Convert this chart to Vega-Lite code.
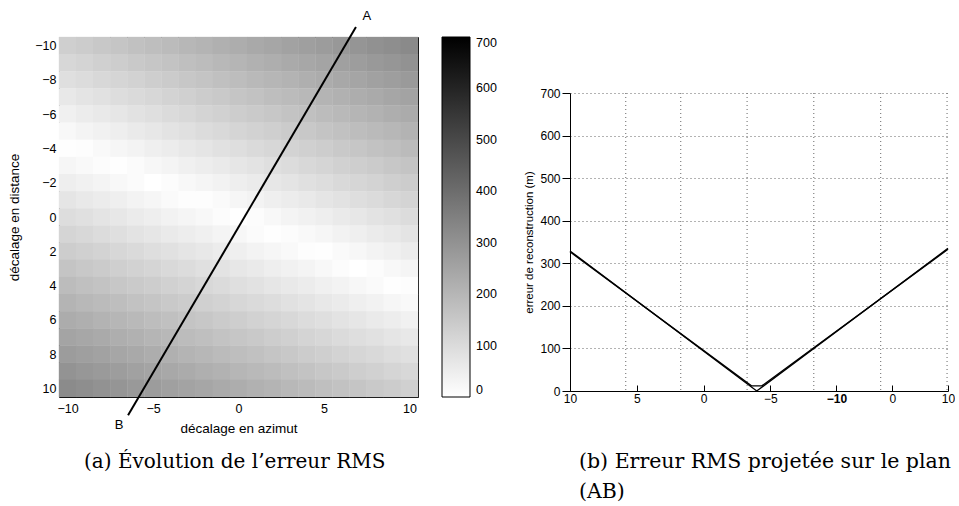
{
  "$schema": "https://vega.github.io/schema/vega-lite/v6.json",
  "background": "white",
  "padding": {"left": 7, "top": 10, "right": 0, "bottom": 0},
  "spacing": 104,
  "config": {
    "view": {"stroke": null},
    "font": "Liberation Sans",
    "axis": {"labelFont": "Liberation Sans", "titleFont": "Liberation Sans", "labelColor": "black", "titleColor": "black", "domainColor": "black", "tickColor": "black", "titleFontWeight": "normal", "labelFlush": false, "labelOverlap": false},
    "legend": {"labelFont": "Liberation Sans", "labelColor": "black"}
  },
  "hconcat": [
    {
      "width": 359,
      "height": 360,
      "title": {"text": "(a) Évolution de l’erreur RMS", "orient": "bottom", "anchor": "start", "frame": "group", "dx": 25, "offset": 17, "font": "DejaVu Serif", "fontSize": 20, "fontWeight": "normal", "color": "black"},
      "data": {"values": [
        {"az":-10,"dist":-10,"err":132},{"az":-10,"dist":-9,"err":109},{"az":-10,"dist":-8,"err":87},{"az":-10,"dist":-7,"err":64},{"az":-10,"dist":-6,"err":42},{"az":-10,"dist":-5,"err":19},{"az":-10,"dist":-4,"err":3},{"az":-10,"dist":-3,"err":26},{"az":-10,"dist":-2,"err":48},{"az":-10,"dist":-1,"err":71},{"az":-10,"dist":0,"err":93},{"az":-10,"dist":1,"err":116},{"az":-10,"dist":2,"err":138},{"az":-10,"dist":3,"err":161},{"az":-10,"dist":4,"err":183},{"az":-10,"dist":5,"err":206},{"az":-10,"dist":6,"err":228},{"az":-10,"dist":7,"err":251},{"az":-10,"dist":8,"err":273},{"az":-10,"dist":9,"err":296},{"az":-10,"dist":10,"err":318},
        {"az":-9,"dist":-10,"err":141},{"az":-9,"dist":-9,"err":119},{"az":-9,"dist":-8,"err":96},{"az":-9,"dist":-7,"err":74},{"az":-9,"dist":-6,"err":51},{"az":-9,"dist":-5,"err":29},{"az":-9,"dist":-4,"err":6},{"az":-9,"dist":-3,"err":16},{"az":-9,"dist":-2,"err":39},{"az":-9,"dist":-1,"err":61},{"az":-9,"dist":0,"err":84},{"az":-9,"dist":1,"err":106},{"az":-9,"dist":2,"err":129},{"az":-9,"dist":3,"err":151},{"az":-9,"dist":4,"err":174},{"az":-9,"dist":5,"err":196},{"az":-9,"dist":6,"err":219},{"az":-9,"dist":7,"err":241},{"az":-9,"dist":8,"err":264},{"az":-9,"dist":9,"err":286},{"az":-9,"dist":10,"err":309},
        {"az":-8,"dist":-10,"err":150},{"az":-8,"dist":-9,"err":128},{"az":-8,"dist":-8,"err":106},{"az":-8,"dist":-7,"err":83},{"az":-8,"dist":-6,"err":61},{"az":-8,"dist":-5,"err":38},{"az":-8,"dist":-4,"err":16},{"az":-8,"dist":-3,"err":7},{"az":-8,"dist":-2,"err":30},{"az":-8,"dist":-1,"err":52},{"az":-8,"dist":0,"err":75},{"az":-8,"dist":1,"err":97},{"az":-8,"dist":2,"err":120},{"az":-8,"dist":3,"err":142},{"az":-8,"dist":4,"err":165},{"az":-8,"dist":5,"err":187},{"az":-8,"dist":6,"err":210},{"az":-8,"dist":7,"err":232},{"az":-8,"dist":8,"err":255},{"az":-8,"dist":9,"err":277},{"az":-8,"dist":10,"err":300},
        {"az":-7,"dist":-10,"err":160},{"az":-7,"dist":-9,"err":138},{"az":-7,"dist":-8,"err":115},{"az":-7,"dist":-7,"err":93},{"az":-7,"dist":-6,"err":70},{"az":-7,"dist":-5,"err":48},{"az":-7,"dist":-4,"err":25},{"az":-7,"dist":-3,"err":3},{"az":-7,"dist":-2,"err":20},{"az":-7,"dist":-1,"err":43},{"az":-7,"dist":0,"err":65},{"az":-7,"dist":1,"err":88},{"az":-7,"dist":2,"err":110},{"az":-7,"dist":3,"err":133},{"az":-7,"dist":4,"err":155},{"az":-7,"dist":5,"err":178},{"az":-7,"dist":6,"err":200},{"az":-7,"dist":7,"err":223},{"az":-7,"dist":8,"err":245},{"az":-7,"dist":9,"err":268},{"az":-7,"dist":10,"err":290},
        {"az":-6,"dist":-10,"err":169},{"az":-6,"dist":-9,"err":147},{"az":-6,"dist":-8,"err":124},{"az":-6,"dist":-7,"err":102},{"az":-6,"dist":-6,"err":79},{"az":-6,"dist":-5,"err":57},{"az":-6,"dist":-4,"err":34},{"az":-6,"dist":-3,"err":12},{"az":-6,"dist":-2,"err":11},{"az":-6,"dist":-1,"err":33},{"az":-6,"dist":0,"err":56},{"az":-6,"dist":1,"err":78},{"az":-6,"dist":2,"err":101},{"az":-6,"dist":3,"err":123},{"az":-6,"dist":4,"err":146},{"az":-6,"dist":5,"err":168},{"az":-6,"dist":6,"err":191},{"az":-6,"dist":7,"err":213},{"az":-6,"dist":8,"err":236},{"az":-6,"dist":9,"err":258},{"az":-6,"dist":10,"err":281},
        {"az":-5,"dist":-10,"err":179},{"az":-5,"dist":-9,"err":156},{"az":-5,"dist":-8,"err":134},{"az":-5,"dist":-7,"err":111},{"az":-5,"dist":-6,"err":89},{"az":-5,"dist":-5,"err":66},{"az":-5,"dist":-4,"err":44},{"az":-5,"dist":-3,"err":21},{"az":-5,"dist":-2,"err":1},{"az":-5,"dist":-1,"err":24},{"az":-5,"dist":0,"err":46},{"az":-5,"dist":1,"err":69},{"az":-5,"dist":2,"err":91},{"az":-5,"dist":3,"err":114},{"az":-5,"dist":4,"err":136},{"az":-5,"dist":5,"err":159},{"az":-5,"dist":6,"err":181},{"az":-5,"dist":7,"err":204},{"az":-5,"dist":8,"err":226},{"az":-5,"dist":9,"err":249},{"az":-5,"dist":10,"err":271},
        {"az":-4,"dist":-10,"err":188},{"az":-4,"dist":-9,"err":166},{"az":-4,"dist":-8,"err":143},{"az":-4,"dist":-7,"err":121},{"az":-4,"dist":-6,"err":98},{"az":-4,"dist":-5,"err":76},{"az":-4,"dist":-4,"err":53},{"az":-4,"dist":-3,"err":31},{"az":-4,"dist":-2,"err":8},{"az":-4,"dist":-1,"err":14},{"az":-4,"dist":0,"err":37},{"az":-4,"dist":1,"err":59},{"az":-4,"dist":2,"err":82},{"az":-4,"dist":3,"err":104},{"az":-4,"dist":4,"err":127},{"az":-4,"dist":5,"err":149},{"az":-4,"dist":6,"err":172},{"az":-4,"dist":7,"err":194},{"az":-4,"dist":8,"err":217},{"az":-4,"dist":9,"err":239},{"az":-4,"dist":10,"err":262},
        {"az":-3,"dist":-10,"err":198},{"az":-3,"dist":-9,"err":175},{"az":-3,"dist":-8,"err":153},{"az":-3,"dist":-7,"err":130},{"az":-3,"dist":-6,"err":108},{"az":-3,"dist":-5,"err":85},{"az":-3,"dist":-4,"err":63},{"az":-3,"dist":-3,"err":40},{"az":-3,"dist":-2,"err":18},{"az":-3,"dist":-1,"err":5},{"az":-3,"dist":0,"err":27},{"az":-3,"dist":1,"err":50},{"az":-3,"dist":2,"err":72},{"az":-3,"dist":3,"err":95},{"az":-3,"dist":4,"err":117},{"az":-3,"dist":5,"err":140},{"az":-3,"dist":6,"err":162},{"az":-3,"dist":7,"err":185},{"az":-3,"dist":8,"err":207},{"az":-3,"dist":9,"err":230},{"az":-3,"dist":10,"err":252},
        {"az":-2,"dist":-10,"err":207},{"az":-2,"dist":-9,"err":185},{"az":-2,"dist":-8,"err":162},{"az":-2,"dist":-7,"err":140},{"az":-2,"dist":-6,"err":117},{"az":-2,"dist":-5,"err":95},{"az":-2,"dist":-4,"err":72},{"az":-2,"dist":-3,"err":50},{"az":-2,"dist":-2,"err":27},{"az":-2,"dist":-1,"err":5},{"az":-2,"dist":0,"err":18},{"az":-2,"dist":1,"err":40},{"az":-2,"dist":2,"err":63},{"az":-2,"dist":3,"err":85},{"az":-2,"dist":4,"err":108},{"az":-2,"dist":5,"err":130},{"az":-2,"dist":6,"err":153},{"az":-2,"dist":7,"err":175},{"az":-2,"dist":8,"err":198},{"az":-2,"dist":9,"err":220},{"az":-2,"dist":10,"err":243},
        {"az":-1,"dist":-10,"err":217},{"az":-1,"dist":-9,"err":194},{"az":-1,"dist":-8,"err":172},{"az":-1,"dist":-7,"err":149},{"az":-1,"dist":-6,"err":127},{"az":-1,"dist":-5,"err":104},{"az":-1,"dist":-4,"err":82},{"az":-1,"dist":-3,"err":59},{"az":-1,"dist":-2,"err":37},{"az":-1,"dist":-1,"err":14},{"az":-1,"dist":0,"err":8},{"az":-1,"dist":1,"err":31},{"az":-1,"dist":2,"err":53},{"az":-1,"dist":3,"err":76},{"az":-1,"dist":4,"err":98},{"az":-1,"dist":5,"err":121},{"az":-1,"dist":6,"err":143},{"az":-1,"dist":7,"err":166},{"az":-1,"dist":8,"err":188},{"az":-1,"dist":9,"err":211},{"az":-1,"dist":10,"err":233},
        {"az":0,"dist":-10,"err":226},{"az":0,"dist":-9,"err":204},{"az":0,"dist":-8,"err":181},{"az":0,"dist":-7,"err":159},{"az":0,"dist":-6,"err":136},{"az":0,"dist":-5,"err":114},{"az":0,"dist":-4,"err":91},{"az":0,"dist":-3,"err":69},{"az":0,"dist":-2,"err":46},{"az":0,"dist":-1,"err":24},{"az":0,"dist":0,"err":1},{"az":0,"dist":1,"err":21},{"az":0,"dist":2,"err":44},{"az":0,"dist":3,"err":66},{"az":0,"dist":4,"err":89},{"az":0,"dist":5,"err":111},{"az":0,"dist":6,"err":134},{"az":0,"dist":7,"err":156},{"az":0,"dist":8,"err":179},{"az":0,"dist":9,"err":201},{"az":0,"dist":10,"err":224},
        {"az":1,"dist":-10,"err":236},{"az":1,"dist":-9,"err":213},{"az":1,"dist":-8,"err":191},{"az":1,"dist":-7,"err":168},{"az":1,"dist":-6,"err":146},{"az":1,"dist":-5,"err":123},{"az":1,"dist":-4,"err":101},{"az":1,"dist":-3,"err":78},{"az":1,"dist":-2,"err":56},{"az":1,"dist":-1,"err":33},{"az":1,"dist":0,"err":9},{"az":1,"dist":1,"err":12},{"az":1,"dist":2,"err":34},{"az":1,"dist":3,"err":57},{"az":1,"dist":4,"err":79},{"az":1,"dist":5,"err":102},{"az":1,"dist":6,"err":124},{"az":1,"dist":7,"err":147},{"az":1,"dist":8,"err":169},{"az":1,"dist":9,"err":192},{"az":1,"dist":10,"err":214},
        {"az":2,"dist":-10,"err":245},{"az":2,"dist":-9,"err":223},{"az":2,"dist":-8,"err":200},{"az":2,"dist":-7,"err":178},{"az":2,"dist":-6,"err":155},{"az":2,"dist":-5,"err":133},{"az":2,"dist":-4,"err":110},{"az":2,"dist":-3,"err":88},{"az":2,"dist":-2,"err":65},{"az":2,"dist":-1,"err":43},{"az":2,"dist":0,"err":20},{"az":2,"dist":1,"err":3},{"az":2,"dist":2,"err":25},{"az":2,"dist":3,"err":48},{"az":2,"dist":4,"err":70},{"az":2,"dist":5,"err":93},{"az":2,"dist":6,"err":115},{"az":2,"dist":7,"err":138},{"az":2,"dist":8,"err":160},{"az":2,"dist":9,"err":183},{"az":2,"dist":10,"err":205},
        {"az":3,"dist":-10,"err":255},{"az":3,"dist":-9,"err":232},{"az":3,"dist":-8,"err":210},{"az":3,"dist":-7,"err":187},{"az":3,"dist":-6,"err":165},{"az":3,"dist":-5,"err":142},{"az":3,"dist":-4,"err":120},{"az":3,"dist":-3,"err":97},{"az":3,"dist":-2,"err":75},{"az":3,"dist":-1,"err":52},{"az":3,"dist":0,"err":30},{"az":3,"dist":1,"err":7},{"az":3,"dist":2,"err":16},{"az":3,"dist":3,"err":38},{"az":3,"dist":4,"err":61},{"az":3,"dist":5,"err":83},{"az":3,"dist":6,"err":106},{"az":3,"dist":7,"err":128},{"az":3,"dist":8,"err":151},{"az":3,"dist":9,"err":173},{"az":3,"dist":10,"err":196},
        {"az":4,"dist":-10,"err":264},{"az":4,"dist":-9,"err":241},{"az":4,"dist":-8,"err":219},{"az":4,"dist":-7,"err":196},{"az":4,"dist":-6,"err":174},{"az":4,"dist":-5,"err":151},{"az":4,"dist":-4,"err":129},{"az":4,"dist":-3,"err":106},{"az":4,"dist":-2,"err":84},{"az":4,"dist":-1,"err":61},{"az":4,"dist":0,"err":39},{"az":4,"dist":1,"err":16},{"az":4,"dist":2,"err":6},{"az":4,"dist":3,"err":29},{"az":4,"dist":4,"err":51},{"az":4,"dist":5,"err":74},{"az":4,"dist":6,"err":96},{"az":4,"dist":7,"err":119},{"az":4,"dist":8,"err":141},{"az":4,"dist":9,"err":164},{"az":4,"dist":10,"err":186},
        {"az":5,"dist":-10,"err":273},{"az":5,"dist":-9,"err":251},{"az":5,"dist":-8,"err":228},{"az":5,"dist":-7,"err":206},{"az":5,"dist":-6,"err":183},{"az":5,"dist":-5,"err":161},{"az":5,"dist":-4,"err":138},{"az":5,"dist":-3,"err":116},{"az":5,"dist":-2,"err":93},{"az":5,"dist":-1,"err":71},{"az":5,"dist":0,"err":48},{"az":5,"dist":1,"err":26},{"az":5,"dist":2,"err":3},{"az":5,"dist":3,"err":19},{"az":5,"dist":4,"err":42},{"az":5,"dist":5,"err":64},{"az":5,"dist":6,"err":87},{"az":5,"dist":7,"err":109},{"az":5,"dist":8,"err":132},{"az":5,"dist":9,"err":154},{"az":5,"dist":10,"err":177},
        {"az":6,"dist":-10,"err":283},{"az":6,"dist":-9,"err":260},{"az":6,"dist":-8,"err":238},{"az":6,"dist":-7,"err":215},{"az":6,"dist":-6,"err":193},{"az":6,"dist":-5,"err":170},{"az":6,"dist":-4,"err":148},{"az":6,"dist":-3,"err":125},{"az":6,"dist":-2,"err":103},{"az":6,"dist":-1,"err":80},{"az":6,"dist":0,"err":58},{"az":6,"dist":1,"err":35},{"az":6,"dist":2,"err":14},{"az":6,"dist":3,"err":8},{"az":6,"dist":4,"err":32},{"az":6,"dist":5,"err":55},{"az":6,"dist":6,"err":77},{"az":6,"dist":7,"err":100},{"az":6,"dist":8,"err":122},{"az":6,"dist":9,"err":145},{"az":6,"dist":10,"err":167},
        {"az":7,"dist":-10,"err":292},{"az":7,"dist":-9,"err":270},{"az":7,"dist":-8,"err":247},{"az":7,"dist":-7,"err":225},{"az":7,"dist":-6,"err":202},{"az":7,"dist":-5,"err":180},{"az":7,"dist":-4,"err":157},{"az":7,"dist":-3,"err":135},{"az":7,"dist":-2,"err":112},{"az":7,"dist":-1,"err":90},{"az":7,"dist":0,"err":67},{"az":7,"dist":1,"err":45},{"az":7,"dist":2,"err":22},{"az":7,"dist":3,"err":0},{"az":7,"dist":4,"err":23},{"az":7,"dist":5,"err":45},{"az":7,"dist":6,"err":68},{"az":7,"dist":7,"err":90},{"az":7,"dist":8,"err":113},{"az":7,"dist":9,"err":135},{"az":7,"dist":10,"err":158},
        {"az":8,"dist":-10,"err":302},{"az":8,"dist":-9,"err":279},{"az":8,"dist":-8,"err":257},{"az":8,"dist":-7,"err":234},{"az":8,"dist":-6,"err":212},{"az":8,"dist":-5,"err":189},{"az":8,"dist":-4,"err":167},{"az":8,"dist":-3,"err":144},{"az":8,"dist":-2,"err":122},{"az":8,"dist":-1,"err":99},{"az":8,"dist":0,"err":77},{"az":8,"dist":1,"err":54},{"az":8,"dist":2,"err":32},{"az":8,"dist":3,"err":9},{"az":8,"dist":4,"err":13},{"az":8,"dist":5,"err":36},{"az":8,"dist":6,"err":58},{"az":8,"dist":7,"err":81},{"az":8,"dist":8,"err":103},{"az":8,"dist":9,"err":126},{"az":8,"dist":10,"err":148},
        {"az":9,"dist":-10,"err":311},{"az":9,"dist":-9,"err":289},{"az":9,"dist":-8,"err":266},{"az":9,"dist":-7,"err":244},{"az":9,"dist":-6,"err":221},{"az":9,"dist":-5,"err":199},{"az":9,"dist":-4,"err":176},{"az":9,"dist":-3,"err":154},{"az":9,"dist":-2,"err":131},{"az":9,"dist":-1,"err":109},{"az":9,"dist":0,"err":86},{"az":9,"dist":1,"err":64},{"az":9,"dist":2,"err":41},{"az":9,"dist":3,"err":19},{"az":9,"dist":4,"err":4},{"az":9,"dist":5,"err":26},{"az":9,"dist":6,"err":49},{"az":9,"dist":7,"err":71},{"az":9,"dist":8,"err":94},{"az":9,"dist":9,"err":116},{"az":9,"dist":10,"err":139},
        {"az":10,"dist":-10,"err":321},{"az":10,"dist":-9,"err":298},{"az":10,"dist":-8,"err":276},{"az":10,"dist":-7,"err":253},{"az":10,"dist":-6,"err":231},{"az":10,"dist":-5,"err":208},{"az":10,"dist":-4,"err":186},{"az":10,"dist":-3,"err":163},{"az":10,"dist":-2,"err":141},{"az":10,"dist":-1,"err":118},{"az":10,"dist":0,"err":96},{"az":10,"dist":1,"err":73},{"az":10,"dist":2,"err":51},{"az":10,"dist":3,"err":28},{"az":10,"dist":4,"err":6},{"az":10,"dist":5,"err":17},{"az":10,"dist":6,"err":39},{"az":10,"dist":7,"err":62},{"az":10,"dist":8,"err":84},{"az":10,"dist":9,"err":107},{"az":10,"dist":10,"err":129}
      ]},
      "layer": [
        {
          "mark": {"type": "square", "size": 305, "filled": true, "opacity": 1, "strokeWidth": 0},
          "encoding": {
            "x": {"field": "az", "type": "quantitative", "scale": {"domain": [-10.5, 10.5], "nice": false, "zero": false},
                  "axis": {"orient": "bottom", "values": [-10, -5, 0, 5, 10], "tickSize": -5, "labelPadding": 10, "grid": false, "title": "décalage en azimut", "labelFontSize": 12.5, "titleFontSize": 13.5, "titlePadding": 7}},
            "y": {"field": "dist", "type": "quantitative", "scale": {"domain": [-10.5, 10.5], "reverse": true, "nice": false, "zero": false},
                  "axis": {"orient": "left", "values": [-10, -8, -6, -4, -2, 0, 2, 4, 6, 8, 10], "tickSize": -5, "labelPadding": 8, "grid": false, "title": "décalage en distance", "labelFontSize": 12.5, "titleFontSize": 13.5, "titlePadding": 13}},
            "color": {"field": "err", "type": "quantitative", "scale": {"domain": [0, 700], "range": ["#ffffff", "#000000"], "interpolate": "rgb"},
                      "legend": {"orient": "none", "legendX": 383, "legendY": 0, "title": null, "direction": "vertical", "gradientLength": 360, "gradientThickness": 28, "gradientStrokeColor": "black", "gradientStrokeWidth": 1, "values": [0, 100, 200, 300, 400, 500, 600, 700], "labelFontSize": 12.5, "labelOffset": 6, "labelBaseline": "middle", "labelOverlap": false}}
          }
        },
        {
          "data": {"values": [{"pt": "B", "az": -6.46, "dist": 11.57}, {"pt": "A", "az": 6.87, "dist": -11.08}]},
          "mark": {"type": "line", "color": "black", "strokeWidth": 2, "clip": false},
          "encoding": {
            "x": {"field": "az", "type": "quantitative", "axis": {"orient": "top", "values": [-10, -5, 0, 5, 10], "tickSize": -5, "labels": false, "title": null, "grid": false}},
            "y": {"field": "dist", "type": "quantitative", "axis": {"orient": "right", "values": [-10, -8, -6, -4, -2, 0, 2, 4, 6, 8, 10], "tickSize": -5, "labels": false, "title": null, "grid": false}}
          }
        },
        {
          "data": {"values": [{"pt": "A", "az": 6.87, "dist": -11.08}]},
          "mark": {"type": "text", "fontSize": 13, "color": "black", "dx": 11, "dy": -11, "font": "Liberation Sans"},
          "encoding": {
            "x": {"field": "az", "type": "quantitative", "axis": null},
            "y": {"field": "dist", "type": "quantitative", "axis": null},
            "text": {"field": "pt"}
          }
        },
        {
          "data": {"values": [{"pt": "B", "az": -6.46, "dist": 11.57}]},
          "mark": {"type": "text", "fontSize": 13, "color": "black", "dx": -9, "dy": 10, "font": "Liberation Sans"},
          "encoding": {
            "x": {"field": "az", "type": "quantitative", "axis": null},
            "y": {"field": "dist", "type": "quantitative", "axis": null},
            "text": {"field": "pt"}
          }
        }
      ],
      "resolve": {"axis": {"x": "independent", "y": "independent"}}
    },
    {
      "spacing": 0,
      "vconcat": [
        {
          "width": 378,
          "height": 50,
          "data": {"values": []},
          "mark": {"type": "point", "opacity": 0}
        },
        {
          "width": 378,
          "height": 298,
          "title": {"text": ["(b) Erreur RMS projetée sur le plan", "(AB)"], "orient": "bottom", "anchor": "start", "frame": "group", "dx": 9, "offset": 48, "font": "DejaVu Serif", "fontSize": 20.5, "fontWeight": "normal", "color": "black", "lineHeight": 30},
          "layer": [
            {
              "data": {"values": [{"g": 2.95}, {"g": 5.86}, {"g": 9.37}, {"g": 12.9}, {"g": 16.44}, {"g": 19.95}]},
              "mark": {"type": "rule", "color": "#666666", "strokeDash": [1, 3], "strokeWidth": 1},
              "encoding": {"x": {"field": "g", "type": "quantitative", "scale": {"domain": [0, 20], "nice": false, "zero": false}}}
            },
            {
              "data": {"values": [
                {"s": "a", "t": 0, "err": 329}, {"s": "a", "t": 9.88, "err": 0}, {"s": "a", "t": 20, "err": 335},
                {"s": "b", "t": 0, "err": 327}, {"s": "b", "t": 9.6, "err": 12}, {"s": "b", "t": 10.15, "err": 12}, {"s": "b", "t": 20, "err": 333}
              ]},
              "mark": {"type": "line", "color": "black", "strokeWidth": 1.4},
              "encoding": {
                "x": {"field": "t", "type": "quantitative", "scale": {"domain": [0, 20], "nice": false, "zero": false},
                      "axis": {"values": [0, 3.54, 7.07, 10.6, 14.1, 17.05, 20], "labelExpr": "datum.value < 1 ? '10' : datum.value < 5 ? '5' : datum.value < 8 ? '0' : datum.value < 12 ? '−5' : datum.value < 15 ? '−10' : datum.value < 18 ? '0' : '10'", "tickSize": -6, "labelPadding": 8, "grid": false, "title": null, "labelFontSize": 12, "labelFontWeight": {"condition": {"test": "datum.value > 13 && datum.value < 15", "value": "bold"}, "value": "normal"}}},
                "y": {"field": "err", "type": "quantitative", "scale": {"domain": [0, 700], "nice": false},
                      "axis": {"values": [0, 100, 200, 300, 400, 500, 600, 700], "tickSize": 8, "labelPadding": 2, "grid": true, "gridDash": [1, 3], "gridColor": "#666666", "title": "erreur de reconstruction (m)", "labelFontSize": 12, "titleFontSize": 11.5, "titlePadding": 5}},
                "detail": {"field": "s"}
              }
            }
          ]
        }
      ]
    }
  ]
}
